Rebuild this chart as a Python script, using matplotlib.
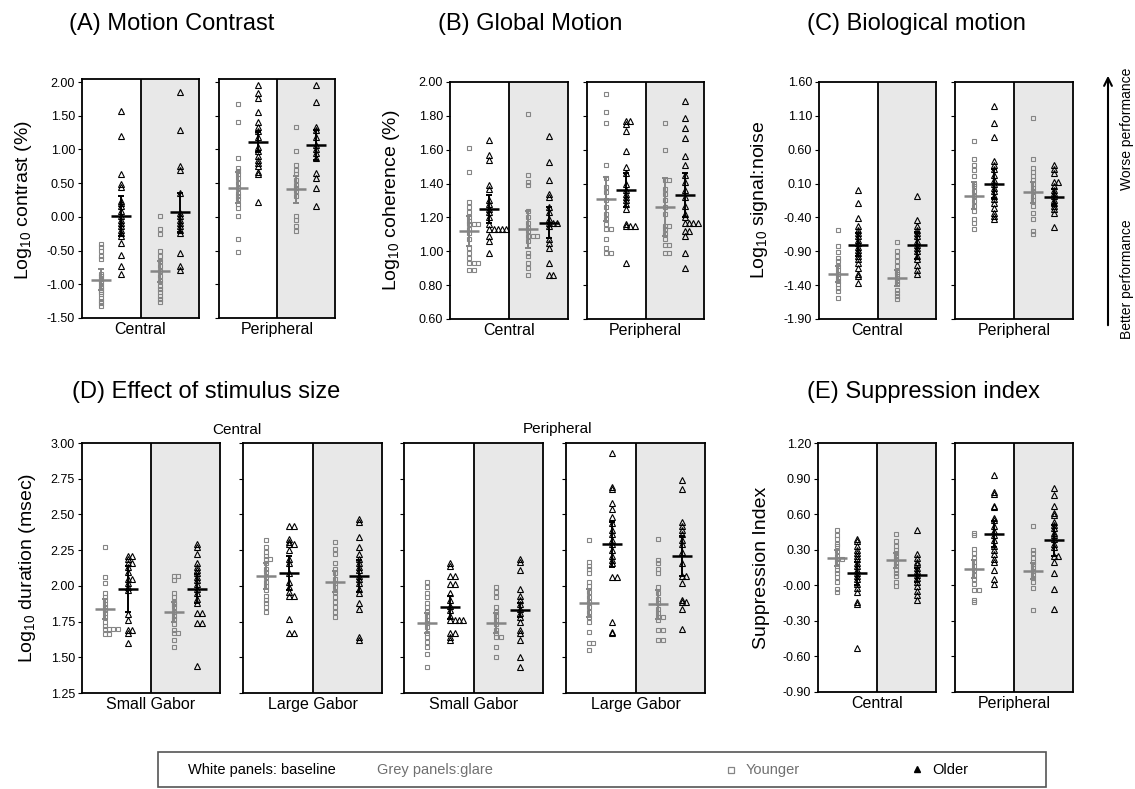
import matplotlib
matplotlib.use('Agg')
import matplotlib.pyplot as plt
from matplotlib.lines import Line2D
from matplotlib.patches import Rectangle, FancyArrowPatch

plt.rcParams['font.family'] = ['Liberation Sans', 'DejaVu Sans']

# ---- data: order in each mean/ci list = baseline younger, baseline older, glare younger, glare older
# (A) Motion contrast
a_cen_by = [-0.40, -0.45, -0.50, -0.58, -0.62, -0.85, -0.88, -0.92, -0.95, -0.98, -1.02, -1.05, -1.08, -1.12, -1.15, -1.20, -1.25, -1.28, -1.32]
a_cen_bo = [1.57, 1.20, 0.64, 0.49, 0.45, 0.23, 0.21, 0.16, 0.08, 0.01, -0.04, -0.09, -0.14, -0.19, -0.24, -0.29, -0.39, -0.56, -0.73, -0.85]
a_cen_gy = [0.01, -0.18, -0.26, -0.50, -0.58, -0.65, -0.73, -0.80, -0.88, -0.95, -1.02, -1.07, -1.12, -1.17, -1.22, -1.27]
a_cen_go = [1.85, 1.29, 0.76, 0.70, 0.36, 0.06, 0.01, -0.04, -0.09, -0.14, -0.19, -0.24, -0.53, -0.73, -0.79]
a_cen_mean = [-0.93, 0.01, -0.81, 0.07]
a_cen_ci = [0.15, 0.30, 0.16, 0.29]
a_per_by = [1.68, 1.40, 0.87, 0.72, 0.68, 0.64, 0.58, 0.50, 0.43, 0.36, 0.31, 0.26, 0.19, 0.13, 0.01, -0.33, -0.52]
a_per_bo = [1.96, 1.83, 1.77, 1.55, 1.40, 1.34, 1.27, 1.18, 1.03, 0.97, 0.90, 0.85, 0.80, 0.75, 0.67, 0.63, 0.22]
a_per_gy = [1.33, 0.97, 0.77, 0.70, 0.63, 0.55, 0.48, 0.43, 0.38, 0.31, 0.01, -0.04, -0.14, -0.21]
a_per_go = [1.95, 1.70, 1.34, 1.29, 1.19, 1.07, 1.00, 0.95, 0.87, 0.65, 0.58, 0.43, 0.16]
a_per_mean = [0.43, 1.11, 0.41, 1.07]
a_per_ci = [0.23, 0.15, 0.20, 0.22]

# (B) Global motion
b_cen_by = [1.61, 1.47, 1.29, 1.26, 1.23, 1.20, 1.18, 1.16, 1.16, 1.16, 1.13, 1.11, 1.07, 1.02, 0.99, 0.96, 0.93, 0.93, 0.93, 0.89, 0.89]
b_cen_bo = [1.66, 1.57, 1.54, 1.39, 1.37, 1.30, 1.28, 1.25, 1.23, 1.20, 1.16, 1.13, 1.13, 1.13, 1.13, 1.13, 1.09, 1.06, 0.99]
b_cen_gy = [1.81, 1.45, 1.41, 1.39, 1.24, 1.20, 1.17, 1.14, 1.12, 1.09, 1.09, 1.09, 1.06, 0.99, 0.97, 0.93, 0.90, 0.86]
b_cen_go = [1.68, 1.53, 1.42, 1.34, 1.32, 1.26, 1.23, 1.19, 1.17, 1.17, 1.17, 1.15, 1.07, 1.05, 1.02, 0.93, 0.86, 0.86]
b_cen_mean = [1.12, 1.25, 1.13, 1.17]
b_cen_ci = [0.09, 0.08, 0.11, 0.09]
b_per_by = [1.93, 1.82, 1.76, 1.51, 1.43, 1.38, 1.35, 1.30, 1.26, 1.22, 1.19, 1.16, 1.13, 1.13, 1.07, 1.02, 0.99, 0.99]
b_per_bo = [1.77, 1.77, 1.75, 1.71, 1.59, 1.50, 1.46, 1.40, 1.36, 1.34, 1.32, 1.30, 1.28, 1.25, 1.16, 1.15, 1.15, 1.15, 0.93]
b_per_gy = [1.76, 1.60, 1.42, 1.42, 1.37, 1.34, 1.30, 1.26, 1.22, 1.15, 1.15, 1.13, 1.10, 1.07, 1.04, 1.04, 0.99, 0.99]
b_per_go = [1.89, 1.79, 1.73, 1.67, 1.56, 1.51, 1.45, 1.41, 1.36, 1.32, 1.27, 1.22, 1.20, 1.17, 1.17, 1.17, 1.17, 1.12, 1.12, 1.09, 0.99, 0.90]
b_per_mean = [1.31, 1.36, 1.26, 1.33]
b_per_ci = [0.13, 0.10, 0.17, 0.13]

# (C) Biological motion
c_cen_by = [-0.59, -0.82, -0.91, -1.00, -1.05, -1.11, -1.17, -1.24, -1.29, -1.34, -1.39, -1.44, -1.49, -1.59]
c_cen_bo = [0.01, -0.18, -0.41, -0.53, -0.58, -0.63, -0.68, -0.73, -0.78, -0.83, -0.88, -0.92, -0.97, -1.02, -1.07, -1.15, -1.24, -1.27, -1.37]
c_cen_gy = [-0.77, -0.90, -0.97, -1.05, -1.12, -1.20, -1.24, -1.29, -1.34, -1.39, -1.47, -1.52, -1.56, -1.60]
c_cen_go = [-0.09, -0.44, -0.53, -0.58, -0.63, -0.68, -0.75, -0.80, -0.85, -0.90, -0.97, -1.02, -1.10, -1.17, -1.24]
c_cen_mean = [-1.23, -0.80, -1.30, -0.81]
c_cen_ci = [0.12, 0.17, 0.12, 0.20]
c_per_by = [0.73, 0.46, 0.38, 0.30, 0.21, 0.10, 0.06, -0.01, -0.09, -0.16, -0.23, -0.31, -0.42, -0.48, -0.57]
c_per_bo = [1.24, 0.99, 0.79, 0.43, 0.38, 0.31, 0.23, 0.16, 0.09, 0.04, -0.01, -0.08, -0.13, -0.19, -0.26, -0.33, -0.38, -0.43]
c_per_gy = [1.07, 0.46, 0.33, 0.27, 0.21, 0.16, 0.09, 0.04, -0.01, -0.08, -0.14, -0.23, -0.33, -0.43, -0.60, -0.65]
c_per_go = [0.37, 0.32, 0.26, 0.13, 0.13, 0.06, 0.00, -0.04, -0.09, -0.14, -0.19, -0.23, -0.28, -0.33, -0.54]
c_per_mean = [-0.08, 0.10, -0.03, -0.10]
c_per_ci = [0.20, 0.22, 0.16, 0.12]

# (D) Effect of stimulus size
d_cs_by = [2.27, 2.06, 2.02, 1.95, 1.92, 1.90, 1.87, 1.85, 1.83, 1.81, 1.78, 1.75, 1.72, 1.70, 1.70, 1.70, 1.70, 1.66, 1.66]
d_cs_bo = [2.21, 2.21, 2.19, 2.16, 2.16, 2.13, 2.10, 2.05, 2.05, 2.02, 1.99, 1.97, 1.80, 1.76, 1.69, 1.69, 1.67, 1.60]
d_cs_gy = [2.07, 2.07, 2.04, 1.95, 1.92, 1.89, 1.87, 1.85, 1.82, 1.79, 1.77, 1.73, 1.69, 1.67, 1.67, 1.62, 1.57]
d_cs_go = [2.29, 2.27, 2.22, 2.16, 2.13, 2.11, 2.09, 2.06, 2.04, 2.01, 1.98, 1.95, 1.91, 1.88, 1.81, 1.81, 1.74, 1.74, 1.44]
d_cs_mean = [1.84, 1.98, 1.82, 1.98]
d_cs_ci = [0.07, 0.16, 0.07, 0.10]
d_cl_by = [2.32, 2.27, 2.24, 2.21, 2.19, 2.19, 2.16, 2.12, 2.10, 2.06, 2.03, 2.00, 1.97, 1.93, 1.90, 1.88, 1.85, 1.82]
d_cl_bo = [2.42, 2.42, 2.33, 2.31, 2.29, 2.29, 2.25, 2.19, 2.16, 2.09, 2.03, 1.99, 1.96, 1.93, 1.93, 1.77, 1.67, 1.67]
d_cl_gy = [2.31, 2.26, 2.22, 2.16, 2.12, 2.09, 2.05, 2.02, 1.99, 1.96, 1.92, 1.89, 1.85, 1.82, 1.78]
d_cl_go = [2.47, 2.45, 2.34, 2.27, 2.22, 2.19, 2.16, 2.13, 2.11, 2.07, 2.05, 2.02, 1.98, 1.95, 1.88, 1.84, 1.64, 1.62]
d_cl_mean = [2.07, 2.09, 2.03, 2.07]
d_cl_ci = [0.09, 0.12, 0.075, 0.11]
d_ps_by = [2.03, 1.99, 1.95, 1.92, 1.88, 1.85, 1.82, 1.79, 1.76, 1.74, 1.71, 1.67, 1.64, 1.61, 1.57, 1.52, 1.43]
d_ps_bo = [2.16, 2.14, 2.07, 2.07, 2.01, 2.01, 1.95, 1.90, 1.86, 1.83, 1.79, 1.76, 1.76, 1.76, 1.76, 1.67, 1.67, 1.64, 1.62]
d_ps_gy = [1.99, 1.96, 1.92, 1.85, 1.82, 1.79, 1.76, 1.73, 1.69, 1.67, 1.64, 1.64, 1.57, 1.50]
d_ps_go = [2.19, 2.17, 2.11, 1.98, 1.93, 1.90, 1.87, 1.84, 1.81, 1.78, 1.75, 1.69, 1.67, 1.62, 1.50, 1.43]
d_ps_mean = [1.74, 1.85, 1.74, 1.83]
d_ps_ci = [0.07, 0.08, 0.07, 0.05]
d_pl_by = [2.32, 2.17, 2.14, 2.12, 2.09, 2.03, 2.00, 1.96, 1.92, 1.89, 1.85, 1.82, 1.78, 1.75, 1.68, 1.60, 1.60, 1.55]
d_pl_bo = [2.93, 2.69, 2.68, 2.58, 2.54, 2.48, 2.44, 2.39, 2.36, 2.32, 2.29, 2.25, 2.21, 2.18, 2.16, 2.06, 2.06, 1.75, 1.68, 1.67]
d_pl_gy = [2.33, 2.18, 2.16, 2.12, 2.09, 1.99, 1.95, 1.91, 1.88, 1.84, 1.81, 1.78, 1.78, 1.76, 1.69, 1.69, 1.62, 1.62]
d_pl_go = [2.74, 2.68, 2.45, 2.42, 2.39, 2.36, 2.32, 2.29, 2.24, 2.16, 2.07, 2.07, 2.02, 1.90, 1.89, 1.89, 1.84, 1.70]
d_pl_mean = [1.88, 2.29, 1.87, 2.21]
d_pl_ci = [0.10, 0.16, 0.10, 0.14]

# (E) Suppression index
e_cen_by = [0.47, 0.42, 0.39, 0.35, 0.33, 0.29, 0.25, 0.22, 0.22, 0.20, 0.16, 0.13, 0.10, 0.07, 0.03, -0.03, -0.06]
e_cen_bo = [0.39, 0.37, 0.33, 0.30, 0.27, 0.25, 0.22, 0.19, 0.16, 0.13, 0.10, 0.08, 0.05, 0.01, -0.02, -0.06, -0.14, -0.16, -0.53]
e_cen_gy = [0.43, 0.37, 0.33, 0.30, 0.27, 0.25, 0.22, 0.19, 0.16, 0.13, 0.10, 0.08, 0.03, -0.01]
e_cen_go = [0.47, 0.26, 0.23, 0.20, 0.18, 0.15, 0.12, 0.09, 0.06, 0.03, -0.01, -0.05, -0.08, -0.12]
e_cen_mean = [0.23, 0.10, 0.21, 0.09]
e_cen_ci = [0.07, 0.095, 0.06, 0.06]
e_per_by = [0.44, 0.42, 0.31, 0.27, 0.23, 0.20, 0.16, 0.13, 0.09, 0.05, 0.01, -0.04, -0.04, -0.12, -0.14]
e_per_bo = [0.93, 0.79, 0.77, 0.67, 0.66, 0.57, 0.55, 0.50, 0.46, 0.42, 0.38, 0.33, 0.30, 0.26, 0.22, 0.20, 0.13, 0.05, 0.01]
e_per_gy = [0.50, 0.30, 0.27, 0.23, 0.20, 0.18, 0.15, 0.12, 0.09, 0.06, 0.03, -0.02, -0.21]
e_per_go = [0.82, 0.76, 0.67, 0.61, 0.59, 0.53, 0.51, 0.48, 0.44, 0.42, 0.39, 0.35, 0.32, 0.25, 0.25, 0.20, 0.10, -0.03, -0.20]
e_per_mean = [0.14, 0.43, 0.12, 0.38]
e_per_ci = [0.075, 0.11, 0.07, 0.13]

# ---- figure
W, H = 1135, 789
fig = plt.figure(figsize=(W / 100, H / 100), dpi=100)

XPOS = [0.66, 1.33, 2.66, 3.34]
GREY = '#858585'
TXTGREY = '#707070'


def box(x0, x1, y0, y1):
    return fig.add_axes([x0 / W, 1 - y1 / H, (x1 - x0) / W, (y1 - y0) / H])


def draw_box(ax, groups, means, cis, ylim, ticks, label, first):
    unit = 4.0 / (ax.get_position().width * W)  # data units per pixel
    ax.axvspan(2, 4, color='#e8e8e8', zorder=0, lw=0)
    ax.axvline(2, color='black', lw=1.3, zorder=1)
    for i, (vals, m, c) in enumerate(zip(groups, means, cis)):
        young = i % 2 == 0
        col = GREY if young else 'black'
        counts = {}
        xs = []
        for v in vals:
            k = round(v, 2)
            n = counts.get(k, 0)
            counts[k] = n + 1
            xs.append(XPOS[i] + n * 4.3 * unit)
        ax.plot(xs, vals, ls='none', marker='s' if young else '^',
                ms=3.2 if young else 3.8, mfc='none', mec=col, mew=0.8, zorder=3)
        ax.errorbar(XPOS[i], m, yerr=c, color=col, lw=1.4, capsize=2.5,
                    capthick=1.4, zorder=4)
        ax.hlines(m, XPOS[i] - 10 * unit, XPOS[i] + 10 * unit, color=col,
                  lw=1.8, zorder=4)
    ax.set_xlim(0, 4)
    ax.set_ylim(*ylim)
    ax.set_yticks(ticks)
    ax.set_xticks([])
    ax.tick_params(axis='y', direction='out', length=3, width=0.8, pad=2,
                   labelsize=9, labelleft=first)
    if first:
        ax.set_yticklabels(['%.2f' % t for t in ticks])
    for s in ax.spines.values():
        s.set_linewidth(1.3)
    ax.set_xlabel(label, fontsize=11.5, labelpad=3)


def ticks_from(lo, hi, step):
    n = int(round((hi - lo) / step))
    return [round(lo + k * step, 2) for k in range(n + 1)]


# (A)
ylA = (-1.5, 2.045)
tA = ticks_from(-1.5, 2.0, 0.5)
draw_box(box(82, 199, 79, 318), [a_cen_by, a_cen_bo, a_cen_gy, a_cen_go], a_cen_mean, a_cen_ci, ylA, tA, 'Central', True)
draw_box(box(219, 335, 79, 318), [a_per_by, a_per_bo, a_per_gy, a_per_go], a_per_mean, a_per_ci, ylA, tA, 'Peripheral', False)

# (B)
ylB = (0.6, 2.0)
tB = ticks_from(0.6, 2.0, 0.2)
draw_box(box(450, 568, 82, 319), [b_cen_by, b_cen_bo, b_cen_gy, b_cen_go], b_cen_mean, b_cen_ci, ylB, tB, 'Central', True)
draw_box(box(587, 704, 82, 319), [b_per_by, b_per_bo, b_per_gy, b_per_go], b_per_mean, b_per_ci, ylB, tB, 'Peripheral', False)

# (C)
ylC = (-1.9, 1.6)
tC = ticks_from(-1.9, 1.6, 0.5)
draw_box(box(819, 936, 82, 319), [c_cen_by, c_cen_bo, c_cen_gy, c_cen_go], c_cen_mean, c_cen_ci, ylC, tC, 'Central', True)
draw_box(box(955, 1073, 82, 319), [c_per_by, c_per_bo, c_per_gy, c_per_go], c_per_mean, c_per_ci, ylC, tC, 'Peripheral', False)

# (D)
ylD = (1.25, 3.0)
tD = ticks_from(1.25, 3.0, 0.25)
draw_box(box(82, 220, 443, 693), [d_cs_by, d_cs_bo, d_cs_gy, d_cs_go], d_cs_mean, d_cs_ci, ylD, tD, 'Small Gabor', True)
draw_box(box(243, 382, 443, 693), [d_cl_by, d_cl_bo, d_cl_gy, d_cl_go], d_cl_mean, d_cl_ci, ylD, tD, 'Large Gabor', False)
draw_box(box(404, 543, 443, 693), [d_ps_by, d_ps_bo, d_ps_gy, d_ps_go], d_ps_mean, d_ps_ci, ylD, tD, 'Small Gabor', False)
draw_box(box(566, 705, 443, 693), [d_pl_by, d_pl_bo, d_pl_gy, d_pl_go], d_pl_mean, d_pl_ci, ylD, tD, 'Large Gabor', False)

# (E)
ylE = (-0.9, 1.2)
tE = ticks_from(-0.9, 1.2, 0.3)
draw_box(box(818, 936, 443, 692), [e_cen_by, e_cen_bo, e_cen_gy, e_cen_go], e_cen_mean, e_cen_ci, ylE, tE, 'Central', True)
draw_box(box(955, 1073, 443, 692), [e_per_by, e_per_bo, e_per_gy, e_per_go], e_per_mean, e_per_ci, ylE, tE, 'Peripheral', False)


def ftext(x, y, s, **kw):
    fig.text(x / W, 1 - y / H, s, **kw)


# titles
for x, y, s in [(69, 24, '(A) Motion Contrast'), (438, 24, '(B) Global Motion'),
                (807, 24, '(C) Biological motion'), (72, 392, '(D) Effect of stimulus size'),
                (807, 392, '(E) Suppression index')]:
    ftext(x, y, s, fontsize=17, ha='left', va='center')

# y labels
for x, y, s in [(24, 200, 'Log$_\\mathregular{10}$ contrast (%)'),
                (392, 200, 'Log$_\\mathregular{10}$ coherence (%)'),
                (760, 200, 'Log$_\\mathregular{10}$ signal:noise'),
                (27, 568, 'Log$_\\mathregular{10}$ duration (msec)'),
                (762, 568, 'Suppression Index')]:
    ftext(x, y, s, fontsize=14, rotation=90, ha='center', va='center')

# group headers in (D)
ftext(237, 430, 'Central', fontsize=11, ha='center', va='center')
ftext(558, 429, 'Peripheral', fontsize=11, ha='center', va='center')

# performance arrow
fig.add_artist(FancyArrowPatch((1108 / W, 1 - 328 / H), (1108 / W, 1 - 73 / H),
                               transform=fig.transFigure, arrowstyle='->',
                               mutation_scale=14, lw=1.5, color='black'))
ftext(1127, 129, 'Worse performance', fontsize=10, rotation=90, ha='center', va='center')
ftext(1127, 279, 'Better performance', fontsize=10, rotation=90, ha='center', va='center')

# legend box
fig.add_artist(Rectangle((158 / W, 1 - 787 / H), (1046 - 158) / W, (787 - 752) / H,
                         transform=fig.transFigure, fill=False, ec='#555555', lw=1.2))
ftext(188, 770, 'White panels: baseline', fontsize=10.5, ha='left', va='center')
ftext(377, 770, 'Grey panels:glare', fontsize=10.5, ha='left', va='center', color=TXTGREY)
fig.add_artist(Line2D([731 / W], [1 - 770 / H], transform=fig.transFigure, ls='none',
                      marker='s', ms=3.8, mfc='none', mec=GREY, mew=0.9))
ftext(746, 770, 'Younger', fontsize=10.5, ha='left', va='center', color=TXTGREY)
fig.add_artist(Line2D([917 / W], [1 - 769 / H], transform=fig.transFigure, ls='none',
                      marker='^', ms=4, mfc='black', mec='black'))
ftext(932, 770, 'Older', fontsize=10.5, ha='left', va='center')

fig.savefig('out.png', dpi=100)
